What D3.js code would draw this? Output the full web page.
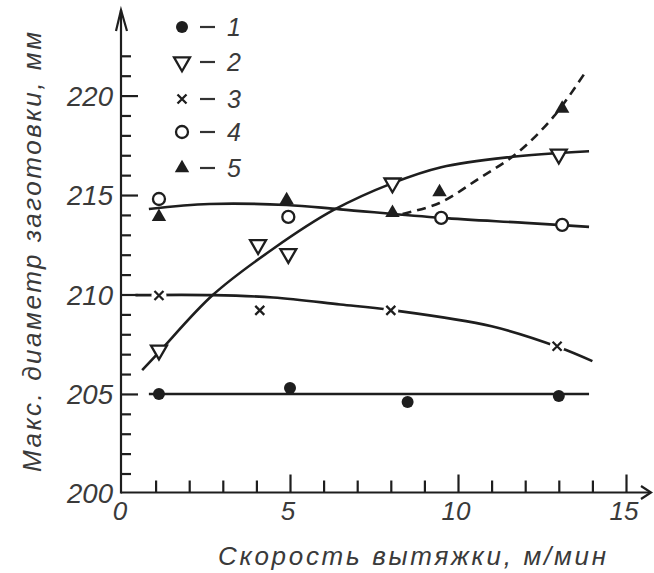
<!DOCTYPE html>
<html>
<head>
<meta charset="utf-8">
<script src="https://cdn.jsdelivr.net/npm/d3@7"></script>
<style>
  html, body { margin: 0; padding: 0; background: #fff; }
  svg { display: block; }
  text { font-family: "Liberation Sans", "DejaVu Sans", sans-serif; font-style: italic; fill: #3a3a3a; }
</style>
</head>
<body>
<script>
// ---- data ----
const speed1 = [1.1, 5.0, 8.5, 13.0];
const diam1  = [205.0, 205.3, 204.6, 204.9];
const speed2 = [1.1, 4.05, 4.95, 8.05, 13.0];
const diam2  = [207.2, 212.5, 212.05, 215.6, 217.05];
const speed3 = [1.1, 4.1, 8.0, 12.95];
const diam3  = [209.95, 209.2, 209.2, 207.4];
const speed4 = [1.1, 4.95, 9.5, 13.1];
const diam4  = [214.8, 213.9, 213.85, 213.5];
const speed5 = [1.1, 4.9, 8.05, 9.45, 13.1];
const diam5  = [213.9, 214.75, 214.1, 215.15, 219.35];

// fitted curves drawn on the chart
const fit1X = [0.8, 13.9];
const fit1Y = [205.0, 205.0];
const fit2X = [0.6, 1.1, 2.7, 4.5, 6.3, 8.05, 9.5, 11.5, 13.9];
const fit2Y = [206.2, 207.1, 209.97, 212.3, 214.25, 215.6, 216.4, 216.9, 217.2];
const fit3X = [0.4, 2.7, 4.5, 6.5, 8.0, 11.0, 13.0, 14.0];
const fit3Y = [209.97, 209.97, 209.85, 209.5, 209.22, 208.4, 207.35, 206.65];
const fit4X = [0.8, 2.6, 4.9, 6.5, 9.5, 12.0, 13.9];
const fit4Y = [214.3, 214.55, 214.5, 214.28, 213.85, 213.6, 213.4];
const fit5X = [8.35, 9.45, 10.65, 11.75, 12.85, 13.8];
const fit5Y = [214.05, 214.6, 215.86, 217.1, 218.95, 221.2];

const xTickLabels = [0, 5, 10, 15];
const yTickLabels = [200, 205, 210, 215, 220];
const legendLabels = ["1", "2", "3", "4", "5"];
const xTitle = "Скорость вытяжки, м/мин";
const yTitle = "Макс. диаметр заготовки, мм";

// ---- drawing ----
const W = 654, H = 573;
const ink = "#1e1e1e";
const svg = d3.select("body").append("svg").attr("width", W).attr("height", H);

const x = d3.scaleLinear().domain([0, 15]).range([122, 626]);
const y = d3.scaleLinear().domain([200, 222]).range([493.4, 55.8]);

// axis lines + arrows
const ax = svg.append("g").attr("stroke", ink).attr("stroke-width", 2.2).attr("fill", "none");
ax.append("line").attr("x1", x(0) - 1).attr("x2", x(0) - 1).attr("y1", y(200)).attr("y2", 10);
ax.append("path").attr("d", `M${x(0) - 6},31 L${x(0) - 1},10 L${x(0) + 5},31`);
ax.append("line").attr("x1", x(0) - 1).attr("x2", 651).attr("y1", 492.5).attr("y2", 492.5);
ax.append("path").attr("d", `M641,486 L651,492.5 L641,499`);

// y ticks (pointing right)
const yMinor = d3.range(201, 223).filter(v => v % 5 !== 0);
const yMajor = [205, 210, 215, 220];
const yAxisMinor = d3.axisRight(y).tickValues(yMinor).tickSize(10).tickFormat("");
const yAxisMajor = d3.axisRight(y).tickValues(yMajor).tickSize(17).tickFormat("");
[yAxisMinor, yAxisMajor].forEach(a => {
  const g = svg.append("g").attr("transform", `translate(${x(0) - 1},0)`).call(a);
  g.select(".domain").remove();
  g.selectAll("line").attr("stroke", ink).attr("stroke-width", 2.2);
});

// x ticks (pointing up)
const xMinor = d3.range(1, 16).filter(v => v % 5 !== 0);
const xMajor = [5, 10, 15];
const xAxisMinor = d3.axisTop(x).tickValues(xMinor).tickSize(12).tickFormat("");
const xAxisMajor = d3.axisTop(x).tickValues(xMajor).tickSize(18).tickFormat("");
[xAxisMinor, xAxisMajor].forEach(a => {
  const g = svg.append("g").attr("transform", `translate(0,492.5)`).call(a);
  g.select(".domain").remove();
  g.selectAll("line").attr("stroke", ink).attr("stroke-width", 2.2);
});

// tick labels
svg.append("g").selectAll("text").data(yTickLabels).join("text")
  .attr("x", 113).attr("y", d => y(d)).attr("dy", "0.36em")
  .attr("text-anchor", "end").attr("font-size", 28)
  .attr("textLength", 46).attr("lengthAdjust", "spacingAndGlyphs").text(d => d);
svg.append("g").selectAll("text").data(xTickLabels).join("text")
  .attr("x", d => x(d) - 2).attr("y", 511).attr("dy", "0.36em")
  .attr("text-anchor", "middle").attr("font-size", 26).text(d => d);

// titles
svg.append("text").attr("x", 218).attr("y", 565).attr("font-size", 26)
  .attr("textLength", 388).attr("lengthAdjust", "spacing").text(xTitle);
svg.append("text").attr("transform", "translate(32,252) rotate(-90)")
  .attr("text-anchor", "middle").attr("dy", "0.36em").attr("font-size", 26)
  .attr("textLength", 440).attr("lengthAdjust", "spacing").text(yTitle);

// curves
const line = d3.line().x(d => x(d[0])).y(d => y(d[1])).curve(d3.curveCatmullRom.alpha(0.5));
const curves = [
  [fit1X, fit1Y, null], [fit2X, fit2Y, null], [fit3X, fit3Y, null],
  [fit4X, fit4Y, null], [fit5X, fit5Y, "9,6"]
];
curves.forEach(([cx, cy, dash]) => {
  svg.append("path").datum(cx.map((v, i) => [v, cy[i]]))
    .attr("d", line).attr("fill", "none").attr("stroke", ink)
    .attr("stroke-width", 2.6).attr("stroke-dasharray", dash);
});

// markers
const tri = d3.symbol().type(d3.symbolTriangle);
function drawMarker(g, type, px, py) {
  if (type === 1) {
    g.append("circle").attr("cx", px).attr("cy", py).attr("r", 6).attr("fill", ink);
  } else if (type === 2) {
    g.append("path").attr("d", tri.size(110)()).attr("transform", `translate(${px},${py}) rotate(180)`)
      .attr("fill", "#fff").attr("stroke", ink).attr("stroke-width", 2.3);
  } else if (type === 3) {
    g.append("circle").attr("cx", px).attr("cy", py).attr("r", 7.5).attr("fill", "#fff");
    g.append("path").attr("d", `M${px - 4.5},${py - 4.5}L${px + 4.5},${py + 4.5}M${px - 4.5},${py + 4.5}L${px + 4.5},${py - 4.5}`)
      .attr("stroke", ink).attr("stroke-width", 2.3);
  } else if (type === 4) {
    g.append("circle").attr("cx", px).attr("cy", py).attr("r", 6)
      .attr("fill", "#fff").attr("stroke", ink).attr("stroke-width", 2.3);
  } else {
    g.append("path").attr("d", tri.size(90)()).attr("transform", `translate(${px},${py})`)
      .attr("fill", ink);
  }
}
const series = [[speed1, diam1], [speed2, diam2], [speed3, diam3], [speed4, diam4], [speed5, diam5]];
const mg = svg.append("g");
series.forEach(([sx, sy], k) => {
  sx.forEach((v, i) => drawMarker(mg, k + 1, x(v), y(sy[i])));
});

// legend
const legY = [27, 62, 99, 132, 168];
const lg = svg.append("g");
legendLabels.forEach((lab, i) => {
  drawMarker(lg, i + 1, 182, legY[i]);
  lg.append("line").attr("x1", 200).attr("x2", 215).attr("y1", legY[i]).attr("y2", legY[i])
    .attr("stroke", "#333").attr("stroke-width", 2.2);
  lg.append("text").attr("x", 227).attr("y", legY[i]).attr("dy", "0.36em")
    .attr("font-size", 25).text(lab);
});
</script>
</body>
</html>
